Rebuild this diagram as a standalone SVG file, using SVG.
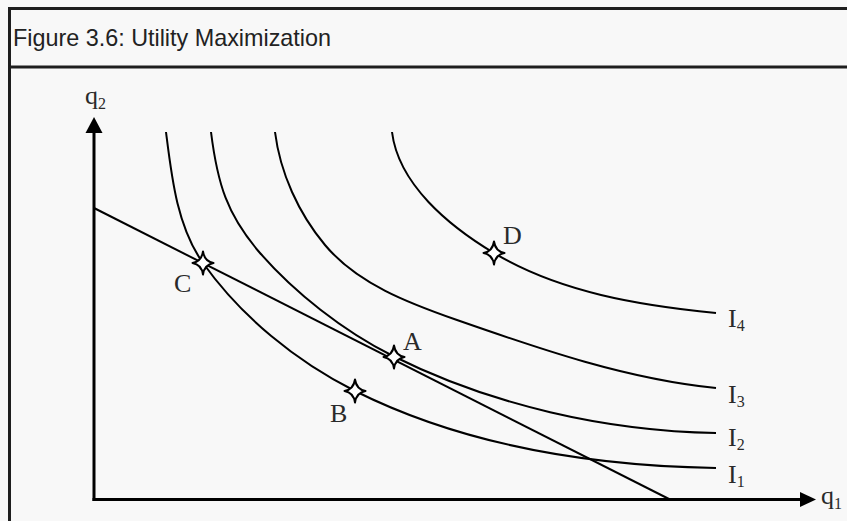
<svg xmlns="http://www.w3.org/2000/svg" xmlns:xlink="http://www.w3.org/1999/xlink" width="847" height="521" viewBox="0 0 847 521">
<style>
.frame{fill:none;stroke:#1e1e1e;stroke-width:3}
.axis{fill:none;stroke:#000;stroke-width:3}
.curve{fill:none;stroke:#000;stroke-width:2}
.lbl{font-family:"Liberation Serif","Times New Roman",serif;font-size:26px;fill:#2a2a2a}
.sub{font-size:16px}
.title{font-family:"Liberation Sans",Arial,sans-serif;font-size:24px;fill:#222}
.star{fill:#fff;stroke:#000;stroke-width:2;stroke-linejoin:round}
</style>
<defs>
<path id="star" class="star" d="M0,-11.5 Q1.5,-1.5 10.5,0 Q1.5,1.5 0,11.5 Q-1.5,1.5 -10.5,0 Q-1.5,-1.5 0,-11.5 Z"/>
</defs>
<rect width="847" height="521" fill="#f8f8f8"/>
<g id="frame">
<path class="frame" d="M9.5,530 V8.5 H850"/>
<line class="frame" x1="9.5" y1="67" x2="850" y2="67"/>
<text class="title" x="13" y="46" textLength="318" lengthAdjust="spacingAndGlyphs">Figure 3.6: Utility Maximization</text>
</g>
<g id="axes">
<path class="axis" d="M94,501 V133"/>
<path d="M85.5,133 L94,117 L102.5,133 Z" fill="#000"/>
<path class="axis" d="M92.5,499.5 H800"/>
<path d="M800,492 L816,499.5 L800,507 Z" fill="#000"/>
<text class="lbl" x="85" y="104">q<tspan class="sub" dy="5">2</tspan></text>
<text class="lbl" x="821" y="504">q<tspan class="sub" dy="5">1</tspan></text>
</g>
<g id="connectors">
<line id="budget" class="curve" x1="94" y1="208" x2="669" y2="499"/>
</g>
<g id="I1">
<path class="curve" d="M166,132 C171.6,176.6 176.9,226.4 203,263 C241.3,316.7 296,361.5 355,391 C465,446 593,466 716,468"/>
<text class="lbl" x="728" y="483">I<tspan class="sub" dy="4">1</tspan></text>
</g>
<g id="I2">
<path class="curve" d="M211,132 C217.5,183.9 227,215 260,253 C294,292 342.9,331 393,356 C491.3,405.2 606,431 716,433"/>
<text class="lbl" x="728" y="446">I<tspan class="sub" dy="4">2</tspan></text>
</g>
<g id="I3">
<path class="curve" d="M275,132 C280.1,172.9 298.6,213.4 325,245 C357.4,283.9 409.2,303.3 457,320 C541.3,349.5 627.2,379.1 716,388"/>
<text class="lbl" x="728" y="403">I<tspan class="sub" dy="4">3</tspan></text>
</g>
<g id="I4">
<path class="curve" d="M392,132 C398.5,184.3 448.8,225.9 494,253 C559.7,292.4 639.7,305.4 716,313"/>
<text class="lbl" x="728" y="327">I<tspan class="sub" dy="4">4</tspan></text>
</g>
<g id="C">
<use xlink:href="#star" x="203" y="263"/>
<text class="lbl" x="174" y="292">C</text>
</g>
<g id="A">
<use xlink:href="#star" x="394" y="357"/>
<text class="lbl" x="403" y="350">A</text>
</g>
<g id="B">
<use xlink:href="#star" x="355" y="391"/>
<text class="lbl" x="330" y="422">B</text>
</g>
<g id="D">
<use xlink:href="#star" x="494" y="253"/>
<text class="lbl" x="503" y="244">D</text>
</g>
</svg>
